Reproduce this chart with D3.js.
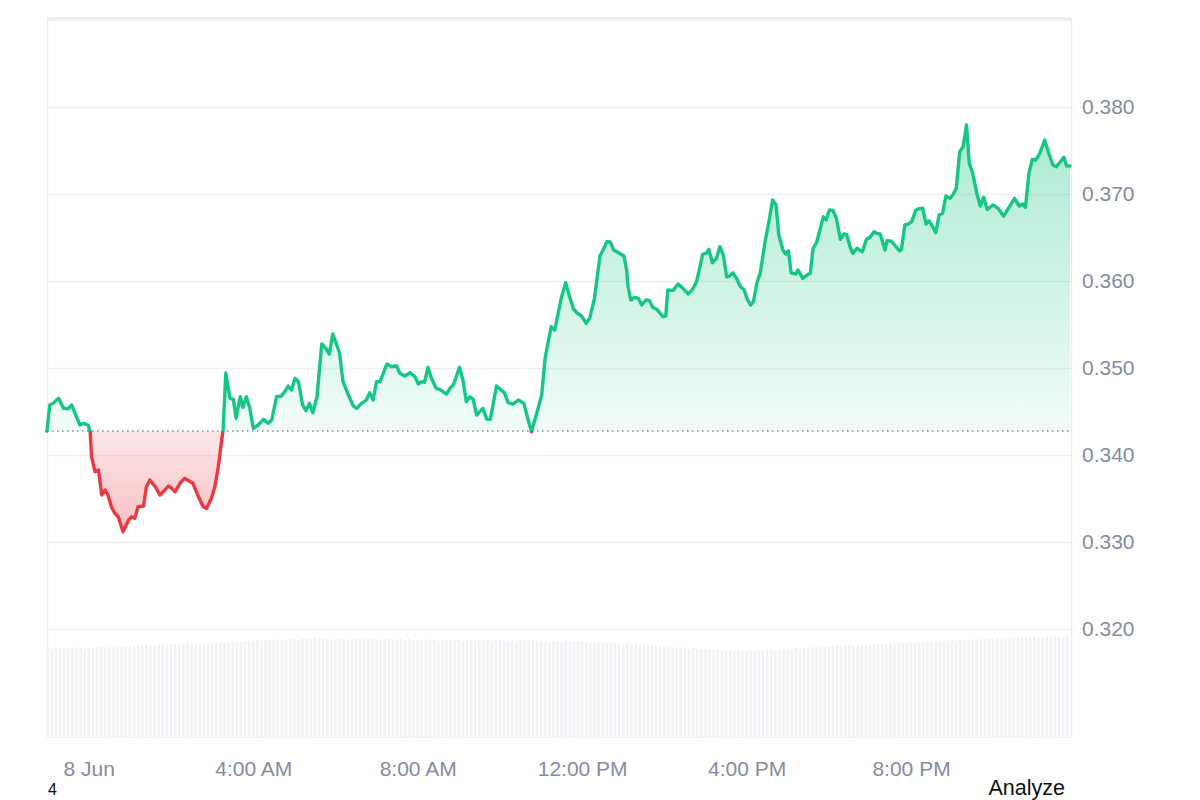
<!DOCTYPE html>
<html><head><meta charset="utf-8">
<script src="https://cdn.jsdelivr.net/npm/d3@7"></script>
<style>
body{margin:0;background:#fff;}
svg{display:block;font-family:"Liberation Sans",Arial,Helvetica,sans-serif;}
</style>
</head><body>
<svg id="chart" width="1200" height="800"></svg>
<script>
// minutes since 8 Jun 00:00
const minutes = [
-61,-57,-52,-44,-37,-30,-25,-18,-13,-8,
-1,2,4,9,14,19,24,28,33,38,
43,50,58,63,67,72,80,84,89,97,
104,111,116,121,126,133,140,148,152,160,
167,172,179,184,189,194,196,200,206,211,
215,221,225,230,235,240,247,255,262,267,
274,281,286,291,296,301,306,312,317,322,
327,333,340,346,351,356,362,366,371,379,
386,391,398,405,410,415,420,425,435,442,
449,454,461,469,476,481,486,490,495,500,
507,512,522,527,532,541,546,551,556,561,
566,575,581,586,595,602,607,612,619,627,
635,640,646,653,661,666,670,675,680,685,
690,696,701,707,712,719,726,731,738,746,
751,756,761,766,772,781,785,787,791,797,
802,807,813,818,823,829,833,838,842,845,
853,860,867,875,882,887,892,896,901,905,
910,916,921,926,931,935,940,946,951,956,
961,966,970,975,980,987,993,998,1003,1007,
1013,1017,1021,1025,1032,1035,1042,1050,1053,1057,
1062,1067,1072,1076,1081,1086,1091,1097,1102,1106,
1111,1115,1121,1129,1135,1140,1146,1150,1155,1162,
1165,1171,1176,1183,1186,1191,1196,1201,1207,1212,
1217,1222,1226,1231,1236,1241,1246,1251,1257,1261,
1266,1271,1276,1281,1285,1290,1296,1301,1306,1311,
1320,1327,1335,1343,1351,1358,1363,1367,1372,1377,
1382,1388,1395,1401,1407,1412,1418,1423,1427,1432
];
const prices = [
0.34276,0.34575,0.34594,0.34652,0.34537,0.34530,0.34575,0.34440,0.34345,0.34364,
0.34345,0.34268,0.33981,0.33808,0.33828,0.33540,0.33598,0.33540,0.33406,0.33330,
0.33291,0.33118,0.33253,0.33291,0.33272,0.33406,0.33414,0.33636,0.33713,0.33636,
0.33540,0.33598,0.33644,0.33617,0.33578,0.33675,0.33732,0.33693,0.33675,0.33521,
0.33406,0.33387,0.33502,0.33636,0.33866,0.34172,0.34287,0.34943,0.34652,0.34640,
0.34422,0.34670,0.34548,0.34670,0.34537,0.34307,0.34345,0.34410,0.34364,0.34402,
0.34670,0.34678,0.34728,0.34793,0.34747,0.34882,0.34843,0.34575,0.34509,0.34594,
0.34486,0.34670,0.35276,0.35226,0.35161,0.35391,0.35264,0.35169,0.34843,0.34690,
0.34563,0.34537,0.34594,0.34632,0.34716,0.34632,0.34843,0.34843,0.35046,0.35015,
0.35026,0.34939,0.34908,0.34946,0.34900,0.34816,0.34843,0.34835,0.35008,0.34882,
0.34767,0.34755,0.34701,0.34767,0.34805,0.35008,0.34862,0.34613,0.34670,0.34640,
0.34460,0.34537,0.34410,0.34410,0.34793,0.34747,0.34709,0.34601,0.34586,0.34632,
0.34594,0.34440,0.34268,0.34460,0.34690,0.35112,0.35284,0.35475,0.35437,0.35629,
0.35820,0.35980,0.35839,0.35686,0.35636,0.35598,0.35514,0.35571,0.35801,0.36287,
0.36364,0.36452,0.36448,0.36356,0.36330,0.36287,0.36126,0.35934,0.35782,0.35813,
0.35801,0.35724,0.35782,0.35778,0.35698,0.35675,0.35636,0.35590,0.35598,0.35897,
0.35893,0.35966,0.35916,0.35851,0.35916,0.35992,0.36164,0.36310,0.36318,0.36364,
0.36210,0.36261,0.36394,0.36299,0.36049,0.36057,0.36095,0.36020,0.35934,0.35905,
0.35790,0.35724,0.35762,0.35974,0.36095,0.36452,0.36701,0.36931,0.36874,0.36529,
0.36356,0.36310,0.36348,0.36095,0.36080,0.36126,0.36031,0.36080,0.36088,0.36376,
0.36440,0.36586,0.36739,0.36701,0.36816,0.36812,0.36721,0.36479,0.36540,0.36536,
0.36394,0.36318,0.36376,0.36337,0.36479,0.36502,0.36567,0.36548,0.36540,0.36356,
0.36463,0.36460,0.36414,0.36348,0.36364,0.36644,0.36655,0.36682,0.36816,0.36831,
0.36836,0.36655,0.36693,0.36632,0.36555,0.36759,0.36778,0.36977,0.36951,0.36989,
0.37066,0.37486,0.37544,0.37793,0.37353,0.37238,0.37008,0.36862,0.36962,0.36824,
0.36874,0.36836,0.36747,0.36847,0.36951,0.36862,0.36885,0.36847,0.37238,0.37399,
0.37391,0.37468,0.37621,0.37468,0.37333,0.37314,0.37371,0.37422,0.37322,0.37322
];
// volume bars: one every 6 minutes starting at -60
const volumeStartMinute = -60;
const volumeStepMinutes = 6;
const volumes = [
89,88,89,89,88,89,90,89,89,88,
89,89,90,90,89,90,90,91,90,90,
91,91,92,91,92,92,91,92,93,92,
93,93,92,93,94,93,93,94,94,93,
94,95,95,94,95,96,95,95,96,96,
96,97,96,97,97,97,98,97,97,98,
98,97,98,98,98,99,98,98,98,97,
98,98,98,97,98,98,99,98,98,98,
98,97,98,98,97,98,98,97,98,97,
97,97,98,97,97,96,97,97,97,97,
97,96,97,97,97,96,97,97,96,97,
97,96,96,97,96,97,96,96,97,96,
96,96,95,96,96,95,96,95,95,96,
95,95,94,95,95,94,94,95,94,94,
93,94,93,93,92,93,92,92,91,91,
91,90,90,89,90,89,88,89,88,88,
88,87,87,87,86,87,87,86,87,87,
87,87,86,87,87,87,88,87,87,88,
88,88,89,88,89,89,90,89,90,90,
90,91,91,90,91,92,91,92,92,92,
92,93,93,92,93,94,93,94,94,94,
95,94,95,95,96,95,96,96,96,96,
97,96,97,97,97,98,97,98,98,98,
98,99,98,99,99,99,100,99,100,100,
100,100,99,100,100,101,100,100,101
];
const yTickValues = [0.32,0.33,0.34,0.35,0.36,0.37,0.38];
const xTickMinutes = [0,240,480,720,960,1200];
const xTickLabels = ["8 Jun","4:00 AM","8:00 AM","12:00 PM","4:00 PM","8:00 PM"];

const W = 1200, H = 800;
const plot = {left:47, right:1071, top:18, bottom:737};
const svg = d3.select("#chart");
const n = Math.min(minutes.length, prices.length);
const data = d3.range(n).map(i => ({t: minutes[i], p: prices[i]}));
const baseline = prices[0];

const x = d3.scaleLinear().domain([minutes[0], minutes[n-1]]).range([plot.left, 1070]);
const y = d3.scaleLinear().domain([0.30759, 0.39023]).range([plot.bottom, plot.top]);
const vy = d3.scaleLinear().domain([0, 100]).range([plot.bottom, plot.bottom - 100]);
const by = y(baseline);

const defs = svg.append("defs");
const gG = defs.append("linearGradient").attr("id","gGreen").attr("gradientUnits","userSpaceOnUse")
  .attr("x1",0).attr("x2",0).attr("y1", y(d3.max(prices))).attr("y2", by);
gG.append("stop").attr("offset",0).attr("stop-color","#16c784").attr("stop-opacity",0.36);
gG.append("stop").attr("offset",1).attr("stop-color","#16c784").attr("stop-opacity",0.06);
const gR = defs.append("linearGradient").attr("id","gRed").attr("gradientUnits","userSpaceOnUse")
  .attr("x1",0).attr("x2",0).attr("y1", by).attr("y2", y(d3.min(prices)));
gR.append("stop").attr("offset",0).attr("stop-color","#ea3943").attr("stop-opacity",0.12);
gR.append("stop").attr("offset",1).attr("stop-color","#ea3943").attr("stop-opacity",0.32);
defs.append("clipPath").attr("id","clipUp").append("rect")
  .attr("x",0).attr("y",0).attr("width",W).attr("height",by);
defs.append("clipPath").attr("id","clipDown").append("rect")
  .attr("x",0).attr("y",by).attr("width",W).attr("height",H-by);

// frame & gridlines
const grid = svg.append("g");
grid.selectAll("line.h").data(yTickValues.concat([0.39])).join("line")
  .attr("x1",plot.left).attr("x2",plot.right)
  .attr("y1",d=>Math.round(y(d))+0.5).attr("y2",d=>Math.round(y(d))+0.5)
  .attr("stroke","#eff0f2").attr("stroke-width",1.5);
grid.append("line").attr("x1",plot.left).attr("x2",plot.right).attr("y1",plot.top+0.5).attr("y2",plot.top+0.5)
  .attr("stroke","#e8e9eb").attr("stroke-width",2);
grid.append("line").attr("x1",plot.left+0.5).attr("x2",plot.left+0.5).attr("y1",plot.top).attr("y2",plot.bottom)
  .attr("stroke","#eceef0").attr("stroke-width",1.5);
grid.append("line").attr("x1",plot.right+0.5).attr("x2",plot.right+0.5).attr("y1",plot.top).attr("y2",plot.bottom)
  .attr("stroke","#eceef0").attr("stroke-width",1.5);
grid.append("line").attr("x1",plot.left).attr("x2",plot.right).attr("y1",plot.bottom+0.5).attr("y2",plot.bottom+0.5)
  .attr("stroke","#f0f1f3").attr("stroke-width",1);

// volume bars
svg.append("g").selectAll("rect").data(volumes).join("rect")
  .attr("x",(d,i)=>x(volumeStartMinute + i*volumeStepMinutes) - 1.3)
  .attr("width",2.6)
  .attr("y",d=>vy(d))
  .attr("height",d=>plot.bottom - vy(d))
  .attr("fill","#f0f2f5");

// areas
const area = d3.area().x(d=>x(d.t)).y0(by).y1(d=>y(d.p));
svg.append("path").datum(data).attr("d",area).attr("fill","url(#gGreen)").attr("clip-path","url(#clipUp)");
svg.append("path").datum(data).attr("d",area).attr("fill","url(#gRed)").attr("clip-path","url(#clipDown)");

// baseline dotted
svg.append("line").attr("x1",plot.left).attr("x2",plot.right).attr("y1",by).attr("y2",by)
  .attr("stroke","#8f939c").attr("stroke-width",1.6).attr("stroke-dasharray","1.6,3.4");

// price lines
const line = d3.line().x(d=>x(d.t)).y(d=>y(d.p));
svg.append("path").datum(data).attr("d",line).attr("fill","none").attr("stroke","#16c784")
  .attr("stroke-width",3.4).attr("stroke-linejoin","round").attr("stroke-linecap","round").attr("clip-path","url(#clipUp)");
svg.append("path").datum(data).attr("d",line).attr("fill","none").attr("stroke","#ea3943")
  .attr("stroke-width",3.4).attr("stroke-linejoin","round").attr("stroke-linecap","round").attr("clip-path","url(#clipDown)");

// axes
const yAxis = d3.axisRight(y).tickValues(yTickValues).tickFormat(d3.format(".3f")).tickSize(0).tickPadding(11);
const gy = svg.append("g").attr("transform",`translate(${plot.right},0)`).call(yAxis);
gy.select(".domain").remove();
gy.selectAll("text").attr("fill","#858ca2").style("font-size","21px").style("font-family",'"Liberation Sans",Arial,sans-serif');

const xAxis = d3.axisBottom(x).tickValues(xTickMinutes).tickFormat((d,i)=>xTickLabels[i]).tickSize(0).tickPadding(24);
const gx = svg.append("g").attr("transform",`translate(0,${plot.bottom})`).call(xAxis);
gx.select(".domain").remove();
gx.selectAll("text").attr("fill","#858ca2").style("font-size","21px").style("font-family",'"Liberation Sans",Arial,sans-serif');

// extra texts
svg.append("text").attr("x",48).attr("y",795).text("4").attr("fill","#111")
  .style("font-size","16px");
svg.append("text").attr("x",1065).attr("y",795).attr("text-anchor","end").text("Analyze").attr("fill","#111")
  .style("font-size","21.5px");
</script>
</body></html>
